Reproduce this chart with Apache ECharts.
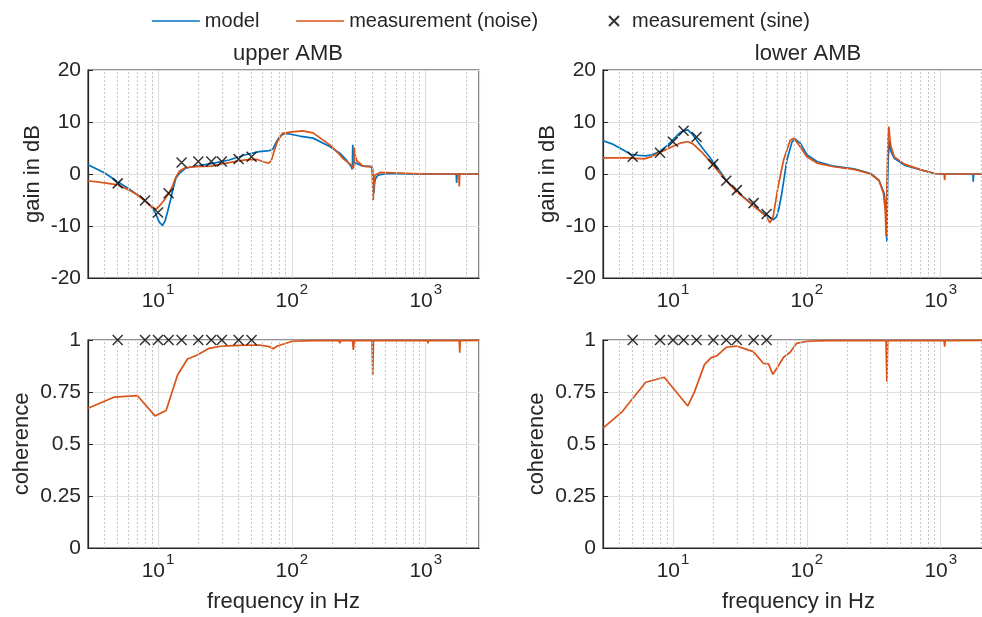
<!DOCTYPE html>
<html>
<head>
<meta charset="utf-8">
<script src="https://cdn.jsdelivr.net/npm/echarts@6/dist/echarts.min.js"></script>
<style>html,body{margin:0;padding:0;background:#fff;}#c{width:982px;height:617px;}</style>
</head>
<body>
<div id="c"></div>
<script>
// ---------- data (frequency in Hz, value) ----------
const upperModelF = [3,4,5,6,7,8,9,9.6,10.2,10.8,11.3,11.8,12.4,13,13.6,14.4,16,19,25,34,45,57,68,72,76,81,88,96,114,144,192,228,255,278,283,285,287,292,302,340,390,401,406,410,414,420,440,510,800,1690,1700,1715,2500];
const upperModelG = [1.8,0.2,-1.5,-2.8,-4.0,-5.1,-6.4,-7.6,-9.2,-9.9,-9.0,-7.2,-5,-2.7,-0.8,0.1,1.1,1.5,2.0,2.7,3.7,4.3,4.5,4.8,6.0,7.2,7.8,7.7,7.3,6.9,5.3,4.0,2.7,1.4,0.9,5.6,3.5,2.2,1.9,1.5,1.4,1.0,-1.5,-3.7,-2.0,-1.0,-0.2,0.1,0,0,-1.7,0,0];
const upperNoiseF = [3,4,5,6,7,8,9,9.6,10.2,11,12,12.8,13.6,14.5,16,19,25,34,45,55,62,67,70,74,78,85,100,120,144,192,228,234,240,278,289,293,297,306,340,395,400,405,410,418,455,1000,1770,1780,1795,2500];
const upperNoiseG = [-1.3,-1.7,-2.1,-3.0,-4.0,-5.2,-6.3,-6.8,-6.2,-5.2,-3.8,-2.4,-0.6,0.6,1.2,1.4,1.5,2.2,2.7,2.8,2.3,2.1,2.5,4.5,6.3,7.8,8.1,8.3,7.9,5.6,3.7,4.0,3.0,1.7,1.1,5.1,3.5,2.5,1.5,1.4,-1,-5,-2,-0.2,0.3,0,0,-2.4,0,0];
const lowerModelF = [3,3.5,3.94,4.83,5.5,6.26,7,7.9,9,9.95,11,11.8,12.9,14.1,15.3,16.7,19.9,25,29.8,35,39.8,45,50,56,59.5,62,65,71,77.5,82,89.5,100,119,159,225,300,346,378,390,396,401,405,413,425,450,535,712,900,1000,1010,1020,1740,1750,1760,2500];
const lowerModelG = [6.4,5.8,5.1,3.8,3.6,3.5,3.7,4.3,5.4,6.5,7.7,8.3,8.5,7.5,6.2,4.9,2.4,-1.2,-3.3,-4.8,-6,-7.1,-7.9,-8.8,-8.2,-6.5,-3.7,2.7,6.2,6.7,5.9,3.7,2.4,1.5,1.0,0.1,-1.2,-3.7,-7,-13,-2,2.7,6.5,4.3,3.0,1.7,0.8,0.1,0,0.3,0,0,-1.5,0,0];
const lowerNoiseF = [3,4.43,6.1,7,7.9,9.95,11.5,12.9,14.1,16.7,19.9,25,29.8,39.8,50,53,56,61,67,75,80,87,100,119,159,225,300,346,373,385,391,396,400,404,410,418,425,450,535,712,900,1060,1070,1080,2500];
const lowerNoiseG = [3.1,3.1,2.9,3.4,4.1,5.3,6.0,6.2,5.8,4.0,1.7,-1.3,-3.4,-6.1,-8.2,-9.4,-8.2,-2.4,2.7,6.5,6.9,5.6,3.3,2.1,1.4,0.9,0,-1.3,-3.7,-7,-12,-3,2.7,7,9.1,6.5,5.3,3.3,1.9,0.8,0.1,0,-1.2,0,0];
const upperCohF = [3,4.68,7.0,9.5,11.5,14.0,16.6,19.7,24.1,30.3,40.5,57,68,72.6,78,101,144,225,228,231,284,288,292,397,402,407,1030,1040,1050,1780,1795,1810,2500];
const upperCohV = [0.672,0.725,0.733,0.635,0.661,0.832,0.909,0.928,0.96,0.971,0.974,0.976,0.968,0.958,0.971,0.994,0.997,0.997,0.984,0.997,0.997,0.952,0.997,0.997,0.832,0.997,0.997,0.984,0.997,0.997,0.939,0.997,0.998];
const lowerCohF = [3,4.18,6.26,8.6,12.9,14.5,17.2,19.3,21.1,25,29.8,35.4,39.8,47.3,51.7,55.7,59.7,67,75,84,100.5,142,390,396,402,1060,1070,1080,2500];
const lowerCohV = [0.576,0.656,0.797,0.821,0.683,0.752,0.883,0.915,0.923,0.965,0.971,0.955,0.944,0.888,0.885,0.835,0.864,0.917,0.941,0.984,0.994,0.997,0.997,0.80,0.997,0.997,0.968,0.997,0.998];
const sineF = [5,8,10,12,15,20,25,30,40,50];
const upperSineG = [-1.8,-5.1,-7.4,-3.7,2.2,2.4,2.4,2.4,2.9,3.3];
const lowerSineG = [3.3,4.1,6.2,8.3,7.1,1.9,-1.3,-3.1,-5.6,-7.7];
const sineCoh = [1,1,1,1,1,1,1,1,1,1];
const minorGridF = [4,5,6,7,8,9,20,30,40,50,60,70,80,90,200,300,400,500,600,700,800,900,2000];
const gainTicks = [-20, 20, 10];      // min, max, interval
const cohTicks = [0, 1, 0.25];        // min, max, interval
const titles = ['upper AMB', 'lower AMB'];

// ---------- helpers ----------
const pair = (f, v) => f.map((x, i) => [x, v[i]]);
const BLUE = '#0072BD', ORANGE = '#D95319', DARK = '#262626', GRIDC = '#dedede';
const FONT = 'Liberation Sans, Arial, sans-serif';
const XSYM = 'path://M0,0L10,10M0,10L10,0';

const grids = [
  {left: 88, top: 70, width: 391, height: 208},
  {left: 603, top: 70, width: 391, height: 208},
  {left: 88, top: 340, width: 391, height: 208},
  {left: 603, top: 340, width: 391, height: 208}
].map(g => Object.assign(g, {show: true, borderColor: DARK, borderWidth: 1.2, backgroundColor: '#fff',
  containLabel: false, outerBoundsMode: 'none'}));

function logLabel(v) {
  const e = Math.log10(v);
  if (Math.abs(e - Math.round(e)) < 1e-6) return '{b|10}{s|' + Math.round(e) + '}';
  return '';
}

const xAxes = [0,1,2,3].map(i => ({
  type: 'log', logBase: 10, gridIndex: i, min: 3, max: 2500,
  axisLine: {show: true, onZero: false, lineStyle: {color: DARK, width: 1.2}},
  axisTick: {show: false},
  splitLine: {show: true, lineStyle: {color: GRIDC, width: 1.2}},
  axisLabel: {
    formatter: logLabel, margin: 4, color: DARK, fontFamily: FONT,
    rich: {
      b: {fontSize: 21, fontFamily: FONT, color: DARK, lineHeight: 30, verticalAlign: 'bottom'},
      s: {fontSize: 15, fontFamily: FONT, color: DARK, lineHeight: 30, verticalAlign: 'top', padding: [0,0,8,1]}
    }
  },
  name: i >= 2 ? 'frequency in Hz' : '', nameLocation: 'middle', nameGap: 43,
  nameTextStyle: {fontSize: 22, fontFamily: FONT, color: DARK}
}));

const yAxes = [0,1,2,3].map(i => {
  const t = i < 2 ? gainTicks : cohTicks;
  return {
    type: 'value', gridIndex: i, min: t[0], max: t[1], interval: t[2],
    axisLine: {show: true, onZero: false, lineStyle: {color: DARK, width: 1.2}},
    axisTick: {show: true, inside: true, length: 5, lineStyle: {color: DARK}},
    splitLine: {show: true, lineStyle: {color: GRIDC, width: 1.2}},
    axisLabel: {fontSize: 21, fontFamily: FONT, color: DARK, margin: 7},
    name: i < 2 ? 'gain in dB' : 'coherence', nameLocation: 'middle',
    nameGap: i < 2 ? 44 : 55,
    nameTextStyle: {fontSize: 22, fontFamily: FONT, color: DARK}
  };
});

const series = [];
for (let i = 0; i < 4; i++) {
  series.push({
    type: 'line', xAxisIndex: i, yAxisIndex: i, data: [], silent: true, z: 1,
    markLine: {
      silent: true, symbol: 'none', animation: false,
      label: {show: false},
      lineStyle: {type: [2, 2], color: '#c4c4c4', width: 1},
      emphasis: {disabled: true},
      data: minorGridF.map(f => ({xAxis: f}))
    }
  });
}
function lineSeries(name, idx, color, f, v) {
  return {name: name, type: 'line', xAxisIndex: idx, yAxisIndex: idx, symbol: 'none', showSymbol: false,
    animation: false, color: color, lineStyle: {width: 1.7, color: color}, data: pair(f, v)};
}
series.push(lineSeries('model', 0, BLUE, upperModelF, upperModelG));
series.push(lineSeries('model', 1, BLUE, lowerModelF, lowerModelG));
series.push(lineSeries('measurement (noise)', 0, ORANGE, upperNoiseF, upperNoiseG));
series.push(lineSeries('measurement (noise)', 1, ORANGE, lowerNoiseF, lowerNoiseG));
series.push(lineSeries('measurement (noise)', 2, ORANGE, upperCohF, upperCohV));
series.push(lineSeries('measurement (noise)', 3, ORANGE, lowerCohF, lowerCohV));
const sineSets = [upperSineG, lowerSineG, sineCoh, sineCoh];
sineSets.forEach((v, i) => {
  series.push({
    name: 'measurement (sine)', type: 'scatter', xAxisIndex: i, yAxisIndex: i,
    symbol: XSYM, symbolSize: 10, clip: false, animation: false, z: 5,
    itemStyle: {color: 'rgba(0,0,0,0)', borderColor: '#000', borderWidth: 1.5},
    data: pair(sineF, v)
  });
});

const chart = echarts.init(document.getElementById('c'), null, {renderer: 'canvas'});
chart.setOption({
  backgroundColor: '#fff',
  animation: false,
  title: [
    {text: titles[0], left: 283, top: 38, textAlign: 'center', textStyle: {fontSize: 22, fontWeight: 'normal', fontFamily: FONT, color: DARK}},
    {text: titles[1], left: 803, top: 38, textAlign: 'center', textStyle: {fontSize: 22, fontWeight: 'normal', fontFamily: FONT, color: DARK}}
  ],
  legend: [
    {data: ['model', 'measurement (noise)'], left: 146, top: 6, itemWidth: 48, itemHeight: 14, itemGap: 36,
     itemStyle: {color: 'rgba(0,0,0,0)', borderWidth: 0, opacity: 0},
     lineStyle: {width: 1.7},
     textStyle: {fontSize: 20, fontFamily: FONT, color: DARK}, selectedMode: false},
    {data: ['measurement (sine)'], left: 603, top: 6, itemWidth: 10, itemHeight: 10, itemGap: 10,
     textStyle: {fontSize: 20, fontFamily: FONT, color: DARK, padding: [0,0,0,8]}, selectedMode: false}
  ],
  grid: grids,
  xAxis: xAxes,
  yAxis: yAxes,
  series: series
});
</script>
</body>
</html>
